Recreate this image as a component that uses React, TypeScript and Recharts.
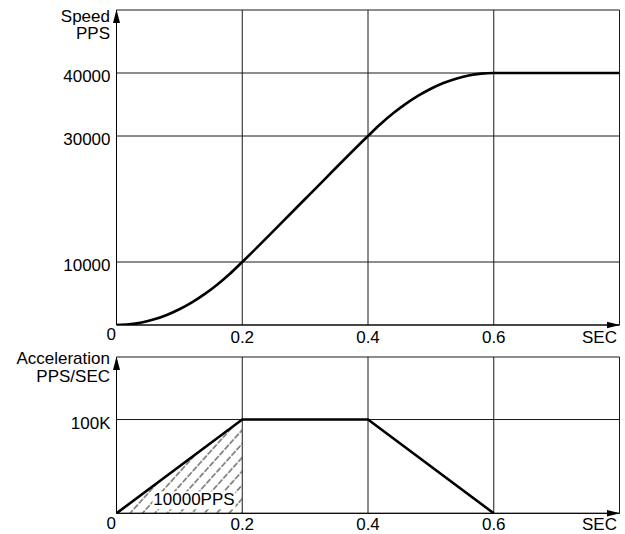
import React from 'react';
import {
  ComposedChart,
  Line,
  Area,
  XAxis,
  YAxis,
  CartesianGrid,
  ReferenceDot,
} from 'recharts';

// ---- data ----
const timeSec = [0, 0.02, 0.04, 0.06, 0.08, 0.1, 0.12, 0.14, 0.16, 0.18, 0.2, 0.3, 0.4, 0.42, 0.44, 0.46, 0.48, 0.5, 0.52, 0.54, 0.56, 0.58, 0.6, 0.8];
const speedPPS = [0, 100, 400, 900, 1600, 2500, 3600, 4900, 6400, 8100, 10000, 20000, 30000, 31900, 33600, 35100, 36400, 37500, 38400, 39100, 39600, 39900, 40000, 40000];

const accTime = [0, 0.2, 0.4, 0.6];
const accValues = [0, 100000, 100000, 0];
const hatchValues = [0, 100000, null, null];

const xTicks = [0, 0.2, 0.4, 0.6];
const xTickLabels = ['0', '0.2', '0.4', '0.6'];
const speedTicks = [0, 10000, 30000, 40000];
const speedTickLabels = ['0', '10000', '30000', '40000'];
const accTicks = [0, 100000];
const accTickLabels = ['0', '100K'];

const xDomain = [0, 0.8];
const speedDomain = [0, 50000];
const accDomain = [0, 166667];

const speedData = timeSec.map((t, i) => ({ t, speed: speedPPS[i] }));
const accData = accTime.map((t, i) => ({ t, acc: accValues[i], hatch: hatchValues[i] }));

const FONT = 'Liberation Sans, Arial, Helvetica, sans-serif';
const FS = 17;

const makeXTick = (zeroDy: number, dy: number) => (props: any) => {
  const { x, y, payload } = props;
  const idx = xTicks.indexOf(payload.value);
  const label = idx >= 0 ? xTickLabels[idx] : String(payload.value);
  if (payload.value === 0) {
    return (
      <text x={x - 0.5} y={y + zeroDy} textAnchor="end" fontFamily={FONT} fontSize={FS} fill="#000">
        {label}
      </text>
    );
  }
  return (
    <text x={x} y={y + dy} textAnchor="middle" fontFamily={FONT} fontSize={FS} fill="#000">
      {label}
    </text>
  );
};

const makeYTick = (ticks: number[], labels: string[]) => (props: any) => {
  const { x, y, payload } = props;
  if (payload.value === 0) return <g />;
  const idx = ticks.indexOf(payload.value);
  return (
    <text x={x - 6} y={y + 9} textAnchor="end" fontFamily={FONT} fontSize={FS} fill="#000">
      {idx >= 0 ? labels[idx] : String(payload.value)}
    </text>
  );
};

const rightArrow = (labelDy: number) => (props: any) => {
  const { cx, cy } = props;
  return (
    <g>
      <polygon points={`${cx + 0.5},${cy} ${cx - 12.5},${cy - 3.3} ${cx - 12.5},${cy + 3.3}`} fill="#000" />
      <text x={cx - 2.5} y={cy + labelDy} textAnchor="end" fontFamily={FONT} fontSize={FS} fill="#000">
        SEC
      </text>
    </g>
  );
};

const upArrow = (line1: string, line2: string, d1: number, d2: number) => (props: any) => {
  const { cx, cy } = props;
  return (
    <g>
      <polygon points={`${cx},${cy - 0.5} ${cx - 3.5},${cy + 13} ${cx + 3.5},${cy + 13}`} fill="#000" />
      <text x={cx - 6.5} y={cy + d1} textAnchor="end" fontFamily={FONT} fontSize={FS} fill="#000">
        {line1}
      </text>
      <text x={cx - 6.5} y={cy + d2} textAnchor="end" fontFamily={FONT} fontSize={FS} fill="#000">
        {line2}
      </text>
    </g>
  );
};

const areaLabel = (props: any) => {
  const { cx, cy } = props;
  return (
    <g>
      <rect x={cx - 42} y={cy - 22} width={83} height={18} fill="#fff" />
      <text x={cx - 0.5} y={cy - 8.3} textAnchor="middle" fontFamily={FONT} fontSize={FS} fill="#000">
        10000PPS
      </text>
    </g>
  );
};

export default function App() {
  return (
    <div style={{ position: 'absolute', left: 0, top: 0, width: 625, height: 534, background: '#fff' }}>
      <div style={{ position: 'absolute', left: 0, top: 0 }}>
        <ComposedChart
          width={625}
          height={355}
          data={speedData}
          margin={{ top: 10, right: 5.5, left: 0, bottom: 0 }}
        >
          <CartesianGrid stroke="#1a1a1a" strokeWidth={1} />
          <XAxis
            dataKey="t"
            type="number"
            domain={xDomain}
            ticks={xTicks}
            interval={0}
            height={30}
            tickSize={0}
            tickMargin={0}
            tickLine={false}
            axisLine={{ stroke: '#000', strokeWidth: 1 }}
            tick={makeXTick(14.5, 17.5)}
            allowDataOverflow
          />
          <YAxis
            type="number"
            domain={speedDomain}
            ticks={speedTicks}
            interval={0}
            width={116.5}
            tickSize={0}
            tickMargin={0}
            tickLine={false}
            axisLine={{ stroke: '#000', strokeWidth: 1 }}
            tick={makeYTick(speedTicks, speedTickLabels)}
            allowDataOverflow
          />
          <Line
            dataKey="speed"
            type="monotone"
            stroke="#000"
            strokeWidth={2.6}
            dot={false}
            activeDot={false}
            isAnimationActive={false}
          />
          <ReferenceDot x={0.8} y={0} r={0} ifOverflow="visible" shape={rightArrow(17.5)} />
          <ReferenceDot x={0} y={50000} r={0} ifOverflow="visible" shape={upArrow('Speed', 'PPS', 11.5, 29.3)} />
        </ComposedChart>
      </div>
      <div style={{ position: 'absolute', left: 0, top: 340 }}>
        <ComposedChart
          width={625}
          height={194}
          data={accData}
          margin={{ top: 17, right: 5.5, left: 0, bottom: 0 }}
        >
          <defs>
            <pattern id="hatch" patternUnits="userSpaceOnUse" width="9.2" height="15" patternTransform="rotate(42)">
              <line x1="1" y1="0" x2="1" y2="15" stroke="#555" strokeWidth="1.3" strokeDasharray="6 1.5" />
            </pattern>
          </defs>
          <CartesianGrid stroke="#1a1a1a" strokeWidth={1} />
          <XAxis
            dataKey="t"
            type="number"
            domain={xDomain}
            ticks={xTicks}
            interval={0}
            height={20.7}
            tickSize={0}
            tickMargin={0}
            tickLine={false}
            axisLine={{ stroke: '#000', strokeWidth: 1 }}
            tick={makeXTick(16, 16.7)}
            allowDataOverflow
          />
          <YAxis
            type="number"
            domain={accDomain}
            ticks={accTicks}
            interval={0}
            width={116.5}
            tickSize={0}
            tickMargin={0}
            tickLine={false}
            axisLine={{ stroke: '#000', strokeWidth: 1 }}
            tick={makeYTick(accTicks, accTickLabels)}
            allowDataOverflow
          />
          <Area
            dataKey="hatch"
            type="linear"
            stroke="none"
            fill="url(#hatch)"
            fillOpacity={1}
            dot={false}
            activeDot={false}
            isAnimationActive={false}
          />
          <ReferenceDot x={0.124} y={0} r={0} ifOverflow="visible" shape={areaLabel} />
          <Line
            dataKey="acc"
            type="linear"
            stroke="#000"
            strokeWidth={2.6}
            dot={false}
            activeDot={false}
            isAnimationActive={false}
          />
          <ReferenceDot x={0.8} y={0} r={0} ifOverflow="visible" shape={rightArrow(16.7)} />
          <ReferenceDot x={0} y={166667} r={0} ifOverflow="visible" shape={upArrow('Acceleration', 'PPS/SEC', 7.3, 25)} />
        </ComposedChart>
      </div>
    </div>
  );
}
